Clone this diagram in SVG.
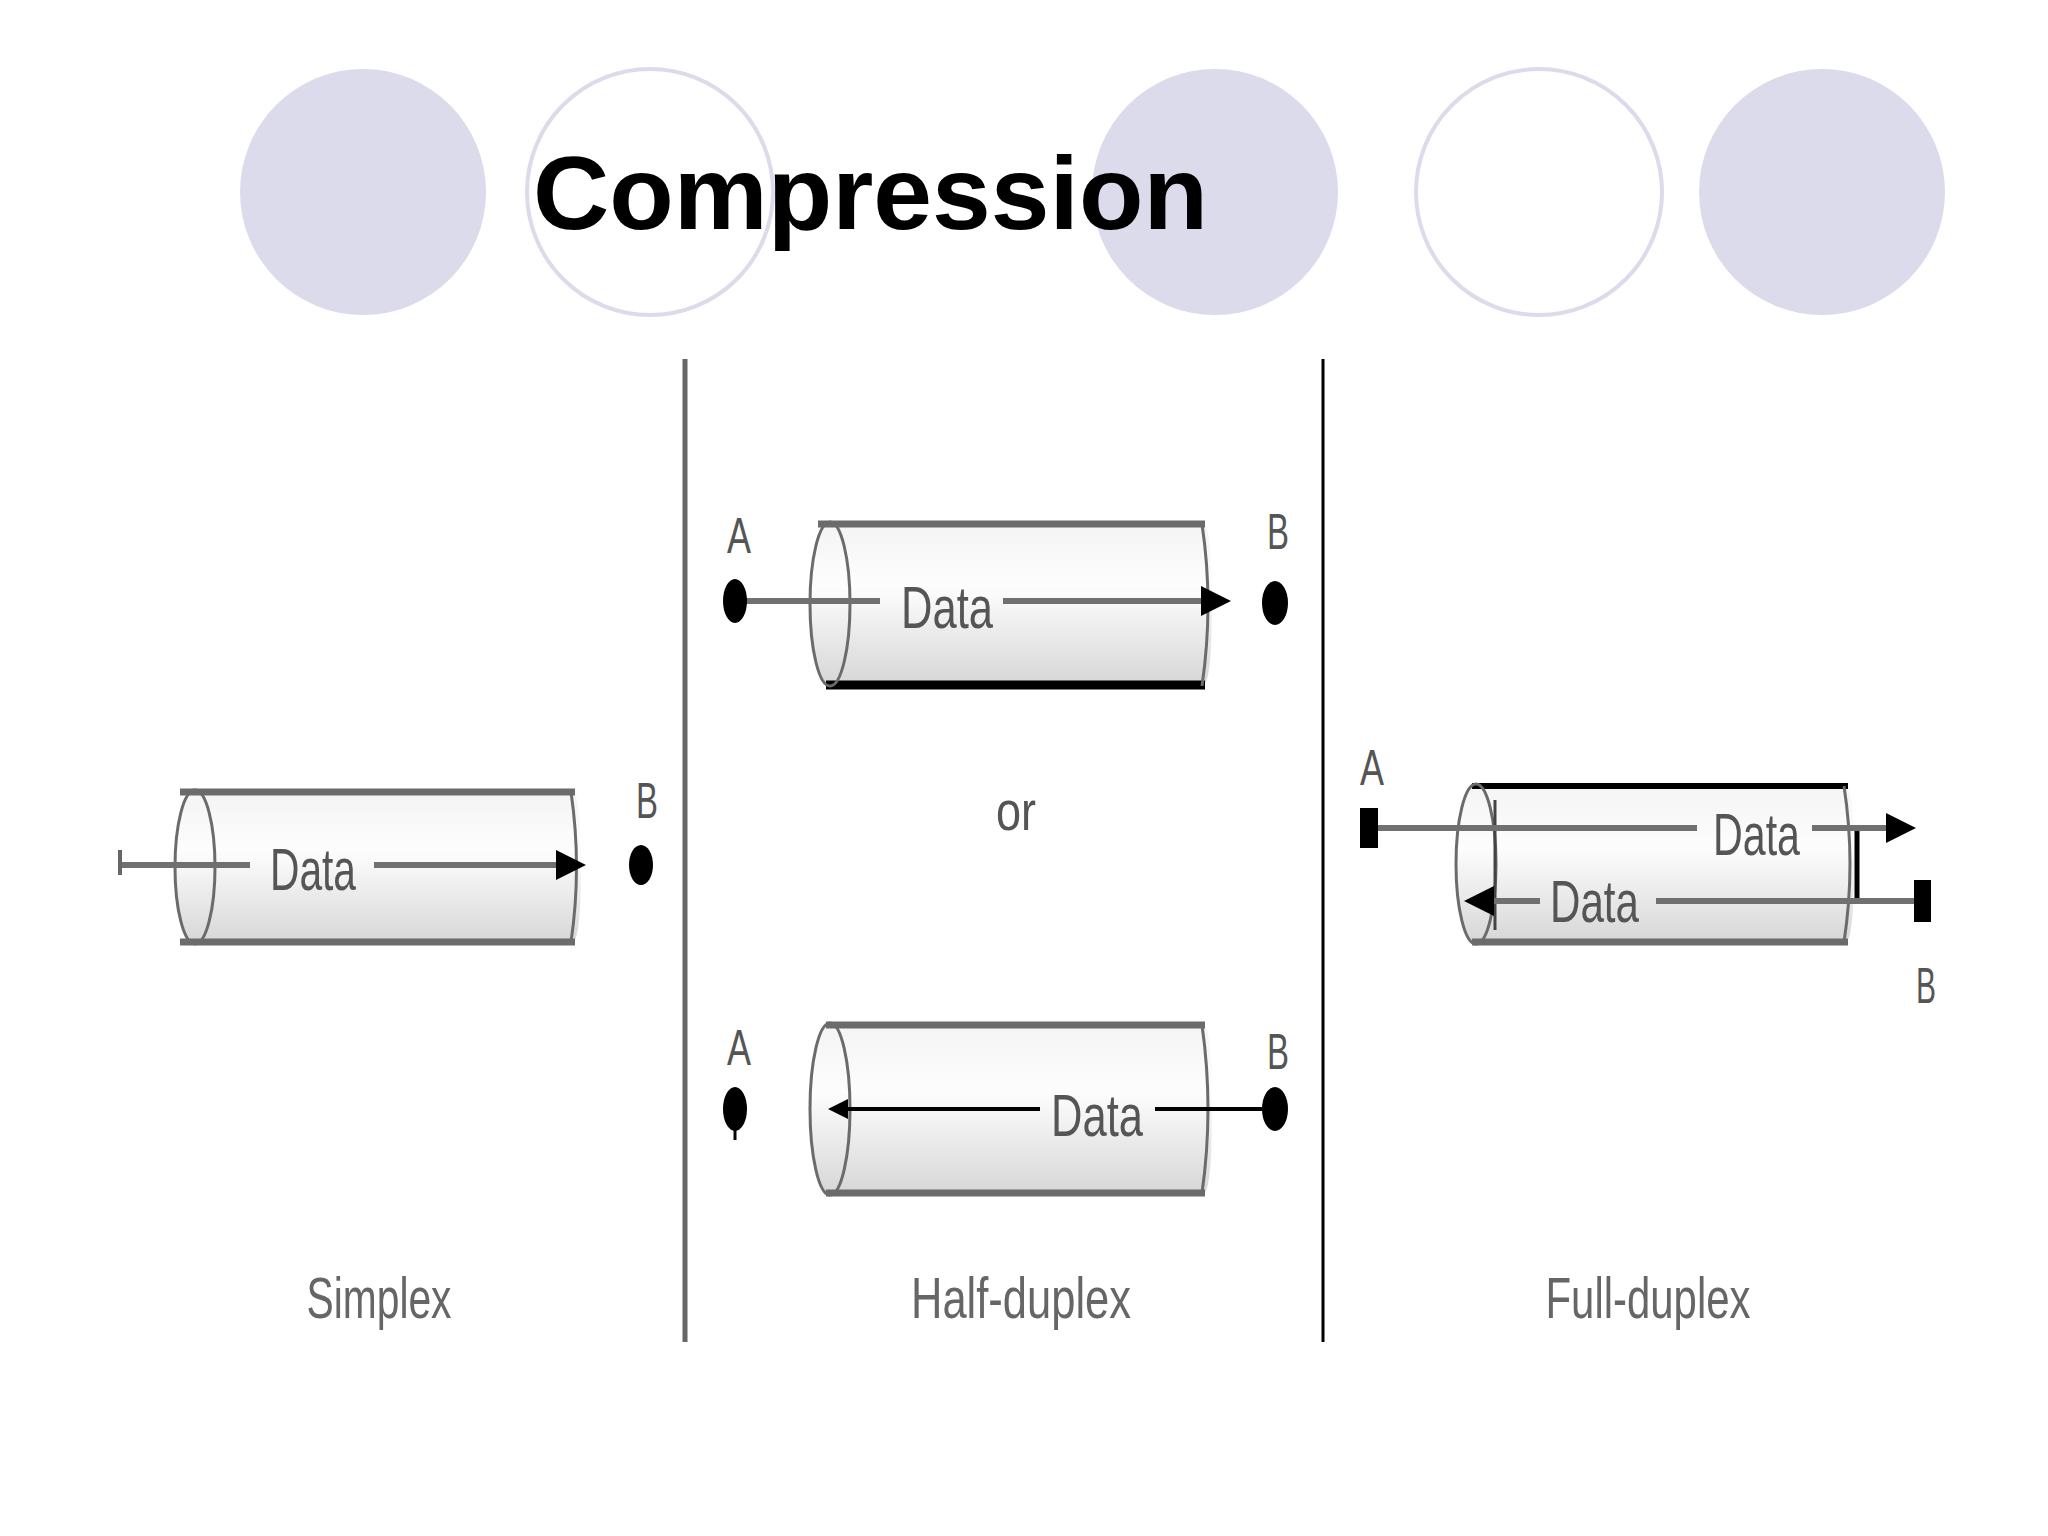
<svg xmlns="http://www.w3.org/2000/svg" width="2048" height="1536" viewBox="0 0 2048 1536">
<style>
.cf{fill:#dcdbeb}
.co{fill:#fff;stroke:#dcdbeb;stroke-width:4}
.body{fill:url(#g);stroke:none}
.edge{stroke:#6b6b6b;stroke-width:7;fill:none}
.end{stroke:#6b6b6b;stroke-width:3;fill:none}
.ln{stroke:#707070;stroke-width:6;fill:none}
.lnk{stroke:#000;stroke-width:4;fill:none}
.t{font-family:"Liberation Sans",Arial,sans-serif;fill:#555}
.lbl{font-family:"Liberation Sans",Arial,sans-serif;fill:#666;font-size:58px}
</style>
<defs>
<linearGradient id="g" x1="0" y1="0" x2="0" y2="1">
<stop offset="0" stop-color="#f4f4f4"/><stop offset="0.4" stop-color="#fdfdfd"/><stop offset="1" stop-color="#d6d6d6"/>
</linearGradient>
<marker id="ar" viewBox="0 0 10 10" refX="8" refY="5" markerWidth="5" markerHeight="5" orient="auto-start-reverse"><path d="M0,0L10,5L0,10z" fill="#000"/></marker>
</defs>
<rect width="2048" height="1536" fill="#fff"/>
<g id="deco">
<circle class="cf" cx="363" cy="192" r="123"/>
<circle class="co" cx="650" cy="192" r="123"/>
<circle class="cf" cx="1215" cy="192" r="123"/>
<circle class="co" cx="1539" cy="192" r="123"/>
<circle class="cf" cx="1822" cy="192" r="123"/>
</g>
<text x="533" y="229" font-family="Liberation Sans,Arial,sans-serif" font-weight="bold" font-size="104" fill="#000" textLength="675" lengthAdjust="spacingAndGlyphs">Compression</text>
<g id="dividers">
<line x1="685" y1="359" x2="685" y2="1342" stroke="#666" stroke-width="5"/>
<line x1="1323" y1="359" x2="1323" y2="1342" stroke="#000" stroke-width="3"/>
</g>
<g id="simplex">
<path class="body" d="M200,790H571Q581,790 581,867Q581,944 571,944H200Q176,944 176,867Q176,790 200,790z"/>
<line class="edge" x1="180" y1="792" x2="575" y2="792"/>
<line class="edge" x1="180" y1="942" x2="575" y2="942"/>
<ellipse class="end" cx="195" cy="867" rx="20" ry="77"/>
<path class="end" d="M571,792Q582,867 571,942"/>
<path class="ln" d="M120,865H250M374,865H580" marker-end="url(#ar)"/>
<line x1="120" y1="850" x2="120" y2="875" stroke="#666" stroke-width="4"/>
<text class="t" x="270" y="890" font-size="60" textLength="86" lengthAdjust="spacingAndGlyphs">Data</text>
<ellipse cx="641" cy="865" rx="12" ry="20" fill="#000"/>
<text class="t" x="636" y="818" font-size="50" textLength="22" lengthAdjust="spacingAndGlyphs">B</text>
<text class="lbl" x="379" y="1318" text-anchor="middle" textLength="145" lengthAdjust="spacingAndGlyphs">Simplex</text>
</g>
<g id="half-top">
<path class="body" d="M834,522H1202Q1212,522 1212,604Q1212,686 1202,686H834Q810,686 810,604Q810,522 834,522z"/>
<line class="edge" x1="818" y1="524" x2="1205" y2="524"/>
<line x1="826" y1="685" x2="1205" y2="685" stroke="#000" stroke-width="9"/>
<ellipse class="end" cx="830" cy="604" rx="20" ry="82"/>
<path class="end" d="M1202,524Q1214,604 1202,686"/>
<path class="ln" d="M735,601H880M1003,601H1225" marker-end="url(#ar)"/>
<text class="t" x="901" y="628" font-size="60" textLength="92" lengthAdjust="spacingAndGlyphs">Data</text>
<ellipse cx="735" cy="601" rx="12" ry="22" fill="#000"/>
<ellipse cx="1275" cy="603" rx="13" ry="22" fill="#000"/>
<text class="t" x="727" y="553" font-size="50" textLength="24" lengthAdjust="spacingAndGlyphs">A</text>
<text class="t" x="1267" y="549" font-size="50" textLength="22" lengthAdjust="spacingAndGlyphs">B</text>
</g>
<text class="t" x="1016" y="830" font-size="56" text-anchor="middle" fill="#999" textLength="40" lengthAdjust="spacingAndGlyphs">or</text>
<g id="half-bottom">
<path class="body" d="M834,1023H1202Q1212,1023 1212,1109Q1212,1195 1202,1195H834Q810,1195 810,1109Q810,1023 834,1023z"/>
<line class="edge" x1="826" y1="1025" x2="1205" y2="1025"/>
<line class="edge" x1="826" y1="1193" x2="1205" y2="1193"/>
<ellipse class="end" cx="830" cy="1109" rx="20" ry="86"/>
<path class="end" d="M1202,1025Q1214,1109 1202,1193"/>
<path class="lnk" d="M1275,1109H1155M1040,1109H832" marker-end="url(#ar)"/>
<text class="t" x="1051" y="1136" font-size="60" textLength="92" lengthAdjust="spacingAndGlyphs">Data</text>
<ellipse cx="735" cy="1109" rx="12" ry="22" fill="#000"/>
<line x1="735" y1="1109" x2="735" y2="1140" stroke="#000" stroke-width="3"/>
<ellipse cx="1275" cy="1109" rx="13" ry="22" fill="#000"/>
<text class="t" x="727" y="1065" font-size="50" textLength="24" lengthAdjust="spacingAndGlyphs">A</text>
<text class="t" x="1267" y="1069" font-size="50" textLength="22" lengthAdjust="spacingAndGlyphs">B</text>
<text class="lbl" x="1021" y="1318" text-anchor="middle" textLength="220" lengthAdjust="spacingAndGlyphs">Half-duplex</text>
</g>
<g id="full">
<path class="body" d="M1480,784H1844Q1854,784 1854,864Q1854,944 1844,944H1480Q1456,944 1456,864Q1456,784 1480,784z"/>
<line x1="1472" y1="786" x2="1848" y2="786" stroke="#000" stroke-width="6"/>
<line class="edge" x1="1472" y1="942" x2="1848" y2="942"/>
<ellipse class="end" cx="1476" cy="864" rx="20" ry="80"/>
<path class="end" d="M1844,786Q1856,864 1844,942"/>
<line x1="1495" y1="800" x2="1495" y2="930" stroke="#444" stroke-width="3"/>
<line x1="1857" y1="828" x2="1857" y2="901" stroke="#000" stroke-width="5"/>
<path class="ln" d="M1369,828H1697M1812,828H1910" marker-end="url(#ar)"/>
<path class="ln" d="M1922,901H1656M1540,901H1470" marker-end="url(#ar)"/>
<text class="t" x="1713" y="855" font-size="60" textLength="87" lengthAdjust="spacingAndGlyphs">Data</text>
<text class="t" x="1550" y="922" font-size="60" textLength="89" lengthAdjust="spacingAndGlyphs">Data</text>
<rect x="1360" y="808" width="18" height="40" fill="#000"/>
<rect x="1914" y="880" width="17" height="42" fill="#000"/>
<text class="t" x="1360" y="785" font-size="50" textLength="24" lengthAdjust="spacingAndGlyphs">A</text>
<text class="t" x="1916" y="1003" font-size="50" textLength="20" lengthAdjust="spacingAndGlyphs">B</text>
<text class="lbl" x="1648" y="1318" text-anchor="middle" textLength="205" lengthAdjust="spacingAndGlyphs">Full-duplex</text>
</g>
</svg>
